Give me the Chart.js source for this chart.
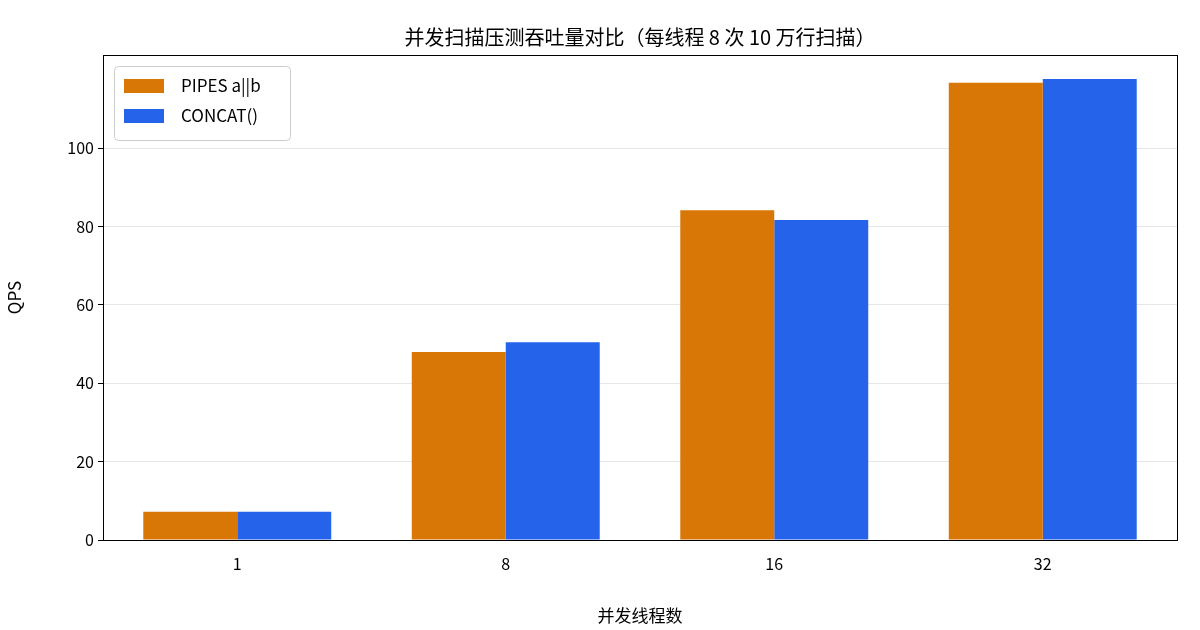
<!DOCTYPE html>
<html><head><meta charset="utf-8">
<script src="https://cdn.jsdelivr.net/npm/chart.js@4/dist/chart.umd.min.js"></script>
<style>html,body{margin:0;padding:0;background:#fff}</style>
</head><body>
<canvas id="c" width="1200" height="630"></canvas>
<script>
const categories = ['1','8','16','32'];
const pipesValues = [7.2, 48.0, 84.2, 116.7];
const concatValues = [7.2, 50.5, 81.7, 117.7];
const seriesLabels = ['PIPES a||b','CONCAT()'];
const titleText = '并发扫描压测吞吐量对比（每线程 8 次 10 万行扫描）';
const FONT = '"Noto Sans CJK SC", "Noto Sans", sans-serif';
const colors = ['#D97706','#2563EB'];

const deco = {
  id:'deco',
  afterDraw(chart){
    const ctx=chart.ctx, a=chart.chartArea;
    ctx.save();
    ctx.strokeStyle='#000'; ctx.lineWidth=1;
    ctx.strokeRect(a.left+0.5,a.top+0.5,a.right-a.left,a.bottom-a.top);
    ctx.fillStyle='#000'; ctx.font='20px '+FONT; ctx.textAlign='center'; ctx.textBaseline='middle';
    ctx.fillText(titleText,(a.left+a.right)/2,37);
    // legend
    const lx=a.left+11, ly=a.top+11, w=176, h=74;
    ctx.fillStyle='rgba(255,255,255,0.8)'; ctx.strokeStyle='#ccc';
    ctx.beginPath(); ctx.roundRect(lx+0.5,ly+0.5,w,h,4); ctx.fill(); ctx.stroke();
    ctx.font='17px '+FONT; ctx.textAlign='left';
    chart.data.datasets.forEach((d,i)=>{
      const y=ly+20+i*30;
      ctx.fillStyle=d.backgroundColor; ctx.fillRect(lx+10,y-7,40,14);
      ctx.fillStyle='#000'; ctx.fillText(d.label,lx+67,y);
    });
    ctx.restore();
  }
};

new Chart(document.getElementById('c'),{
  type:'bar',
  data:{labels:categories,datasets:[
    {label:seriesLabels[0],data:pipesValues,backgroundColor:colors[0]},
    {label:seriesLabels[1],data:concatValues,backgroundColor:colors[1]}
  ]},
  options:{
    responsive:false,devicePixelRatio:1,animation:false,
    layout:{padding:{top:55,right:23,left:0,bottom:0}},
    datasets:{bar:{categoryPercentage:0.7,barPercentage:1}},
    plugins:{legend:{display:false},title:{display:false},tooltip:{enabled:false}},
    scales:{
      x:{grid:{display:false},border:{display:false},
         ticks:{color:'#000',font:{family:FONT,size:16},padding:6},
         title:{display:true,text:'并发线程数',color:'#000',font:{family:FONT,size:17},padding:{top:8}},
         afterFit(s){s.height=90;}},
      y:{min:0,max:123.8,grid:{color:'#e6e6e6',drawTicks:true,tickColor:'#000',tickLength:5},border:{display:false},
         ticks:{stepSize:20,color:'#000',font:{family:FONT,size:16},padding:4,
           callback:v=>(v%20===0?v:null)},
         title:{display:true,text:'QPS',color:'#000',font:{family:FONT,size:17}},
         afterFit(s){s.width=103;}}
    }
  },
  plugins:[deco]
});
</script>
</body></html>
